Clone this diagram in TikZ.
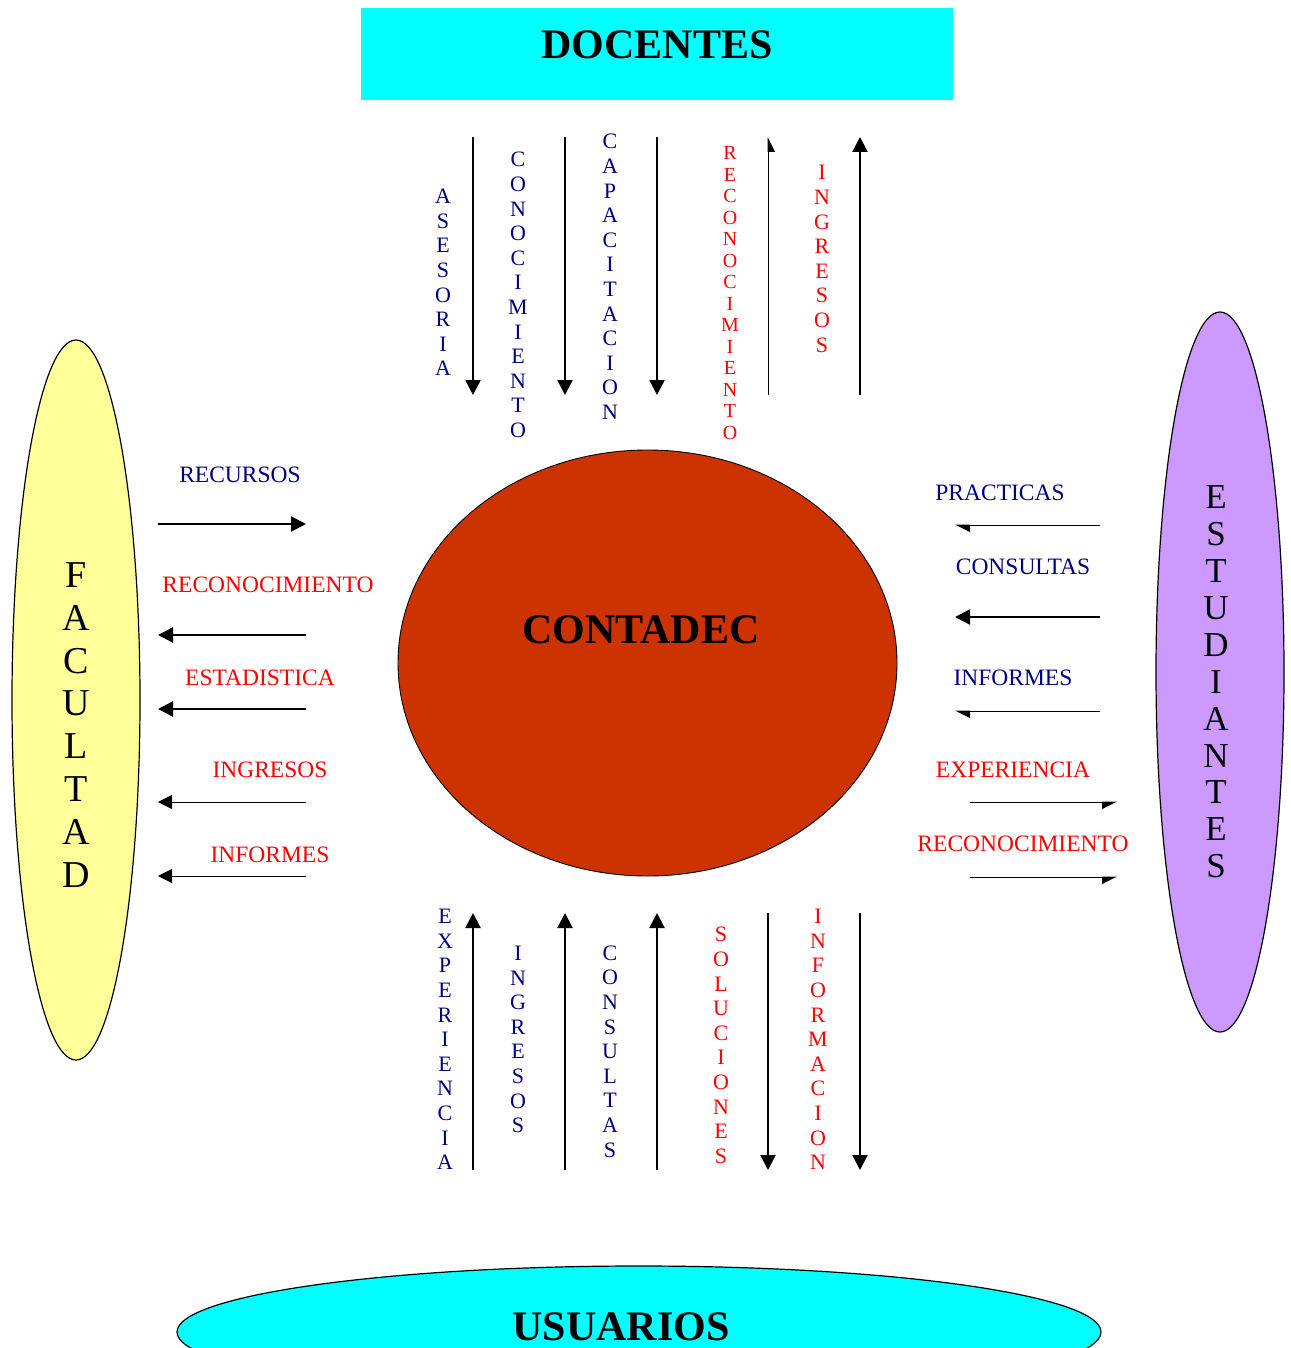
\documentclass[tikz,border=0pt]{standalone}
\usepackage{fontspec}
\setmainfont{Liberation Serif}
\usepackage{tikz}
\usetikzlibrary{arrows.meta,positioning,calc,shapes.geometric}
\usepackage{xcolor}
\definecolor{azul}{RGB}{0,0,128}
\definecolor{rojo}{RGB}{255,0,0}
\definecolor{cian}{RGB}{0,255,255}
\definecolor{amarillo}{RGB}{255,255,153}
\definecolor{lila}{RGB}{204,153,255}
\definecolor{ladrillo}{RGB}{204,51,0}

\tikzset{
  gruesa/.style={line width=2.4pt,-{Triangle[length=15pt,width=15pt]}},
  fina/.style={line width=1pt,-{Triangle[length=14pt,width=14pt]}},
  media/.style={line width=1pt,-{Triangle[harpoon,length=14pt,width=14pt]}},
  mediasw/.style={line width=1pt,-{Triangle[harpoon,swap,length=14pt,width=14pt]}},
  etiq/.style={font=\fontsize{23.5}{28}\selectfont,inner sep=0pt},
  vert/.style={align=center,inner sep=0pt,font=\fontsize{22}{24.6}\selectfont},
  titulo/.style={font=\fontsize{42}{48}\selectfont\bfseries,inner sep=0pt}
}

\begin{document}
\begin{tikzpicture}[x=1pt,y=-1pt]
  \useasboundingbox (0,0) rectangle (1290,1348);

  % actores
  \fill[cian] (361,8) rectangle (953,100);
  \node[titulo] (docentes) at (657,45) {DOCENTES};
  \begin{scope}
    \clip (0,0) rectangle (1290,1348);
    \draw[line width=1.2pt,fill=cian] (639,1332) ellipse [x radius=462,y radius=66];
  \end{scope}
  \node[titulo] (usuarios) at (621,1327) {USUARIOS};
  \draw[line width=1.2pt,fill=amarillo] (76,700) ellipse [x radius=64,y radius=360];
  \node[align=center,font=\fontsize{38}{42.9}\selectfont] (facultad) at (76,725)
    {F\\A\\C\\U\\L\\T\\A\\D};
  \draw[line width=1.2pt,fill=lila] (1220,672) ellipse [x radius=64,y radius=360];
  \node[align=center,font=\fontsize{35}{36.9}\selectfont] (estudiantes) at (1216,682)
    {E\\S\\T\\U\\D\\I\\A\\N\\T\\E\\S};
  \draw[line width=0.9pt,fill=ladrillo] (647.5,663) ellipse [x radius=249.5,y radius=213];
  \node[titulo] (contadec) at (641,630) {CONTADEC};

  % flechas con docentes
  \foreach \x [count=\i] in {473,565,657,768,860}{
    \coordinate (da\i) at (\x,137);
    \coordinate (db\i) at (\x,395);
  }
  \foreach \i in {1,2,3} \draw[gruesa] (da\i) -- (db\i);
  \draw[mediasw] (db4) -- (da4);
  \draw[gruesa] (db5) -- (da5);
  \node[vert,text=azul] (asesoria) at (443,282.5) {A\\S\\E\\S\\O\\R\\I\\A};
  \node[vert,text=azul] (conocim) at (518,295) {C\\O\\N\\O\\C\\I\\M\\I\\E\\N\\T\\O};
  \node[vert,text=azul] (capacit) at (610,277) {C\\A\\P\\A\\C\\I\\T\\A\\C\\I\\O\\N};
  \node[vert,text=rojo,font=\fontsize{20}{21.5}\selectfont] (reconoc) at (730,293)
    {R\\E\\C\\O\\N\\O\\C\\I\\M\\I\\E\\N\\T\\O};
  \node[vert,text=rojo] (ingresos) at (822,259) {I\\N\\G\\R\\E\\S\\O\\S};

  % flechas con usuarios
  \foreach \x [count=\i] in {473,565,657,768,860}{
    \coordinate (ua\i) at (\x,913);
    \coordinate (ub\i) at (\x,1170);
  }
  \foreach \i in {1,2,3} \draw[gruesa] (ub\i) -- (ua\i);
  \foreach \i in {4,5} \draw[gruesa] (ua\i) -- (ub\i);
  \node[vert,text=azul] (experien) at (445,1039.5) {E\\X\\P\\E\\R\\I\\E\\N\\C\\I\\A};
  \node[vert,text=azul] (ingresosb) at (518,1039.5) {I\\N\\G\\R\\E\\S\\O\\S};
  \node[vert,text=azul] (consultas) at (610,1051.5) {C\\O\\N\\S\\U\\L\\T\\A\\S};
  \node[vert,text=rojo] (soluciones) at (721,1045.5) {S\\O\\L\\U\\C\\I\\O\\N\\E\\S};
  \node[vert,text=rojo] (informac) at (818,1039.5) {I\\N\\F\\O\\R\\M\\A\\C\\I\\O\\N};

  % flechas con la facultad
  \foreach \y [count=\i] in {524,635,709,802,876}{
    \coordinate (fa\i) at (158,\y);
    \coordinate (fb\i) at (306,\y);
  }
  \draw[gruesa] (fa1) -- (fb1);
  \draw[gruesa] (fb2) -- (fa2);
  \draw[gruesa] (fb3) -- (fa3);
  \draw[fina] (fb4) -- (fa4);
  \draw[fina] (fb5) -- (fa5);
  \node[etiq,text=azul] (recursos) at (240,475) {RECURSOS};
  \node[etiq,text=rojo] (reconocf) at (268,585) {RECONOCIMIENTO};
  \node[etiq,text=rojo] (estadist) at (260,678) {ESTADISTICA};
  \node[etiq,text=rojo] (ingresosf) at (270,770) {INGRESOS};
  \node[etiq,text=rojo] (informesf) at (270,855) {INFORMES};

  % flechas con estudiantes
  \foreach \y [count=\i] in {525,617,711}{
    \coordinate (ea\i) at (955,\y);
    \coordinate (eb\i) at (1100,\y);
  }
  \foreach \y [count=\i from 4] in {802,877}{
    \coordinate (ea\i) at (970,\y);
    \coordinate (eb\i) at (1117,\y);
  }
  \draw[media] (eb1) -- (ea1);
  \draw[gruesa] (eb2) -- (ea2);
  \draw[media] (eb3) -- (ea3);
  \draw[mediasw] (ea4) -- (eb4);
  \draw[mediasw] (ea5) -- (eb5);
  \node[etiq,text=azul] (practicas) at (1000,493) {PRACTICAS};
  \node[etiq,text=azul] (consultase) at (1023,567) {CONSULTAS};
  \node[etiq,text=azul] (informese) at (1013,678) {INFORMES};
  \node[etiq,text=rojo] (experiene) at (1013,770) {EXPERIENCIA};
  \node[etiq,text=rojo] (reconoce) at (1023,844) {RECONOCIMIENTO};
\end{tikzpicture}
\end{document}
